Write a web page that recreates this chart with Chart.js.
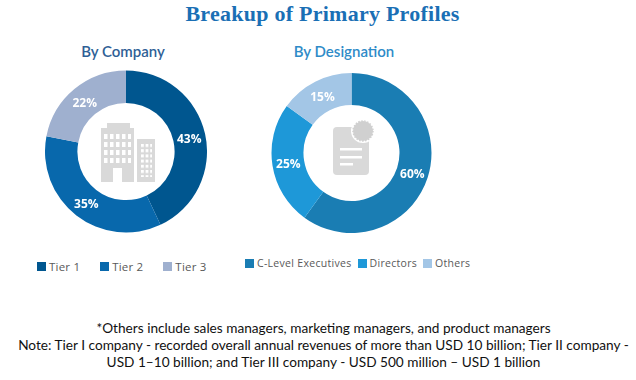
<!DOCTYPE html>
<html lang="en">
<head>
<meta charset="UTF-8">
<title>Breakup of Primary Profiles</title>
<script src="https://cdn.jsdelivr.net/npm/chart.js"></script>
<style>
    html, body { margin: 0; padding: 0; background: #fff; }
    body { width: 636px; height: 380px; position: relative; overflow: hidden; }
    .txt { position: absolute; white-space: nowrap; text-align: center; transform: translateX(-50%); }
    #title { left: 322.5px; top: 1px; font: bold 22px "Liberation Serif", serif; color: #1a6fb5; letter-spacing: 0.25px; }
    .sub { top: 42px; font: 600 15px Lato, sans-serif; }
    #note { left: 323.5px; top: 320px; font: 13.65px/17px Lato, sans-serif; color: #111; }
    .box { position: absolute; }
    .legend { position: absolute; display: flex; align-items: center; white-space: nowrap; color: #595959; font-family: "Open Sans", sans-serif; }
    .legend span { display: flex; align-items: center; }
    .legend i { display: inline-block; width: 9px; height: 9px; margin-right: 3px; }
    svg { position: absolute; }
</style>
</head>
<body>
<div id="title" class="txt">Breakup of Primary Profiles</div>
<div class="txt sub" style="left:123px;color:#2f5f96">By Company</div>
<div class="txt sub" style="left:344px;color:#2e8bc8">By Designation</div>

<div class="box" style="left:45px;top:70px;width:162px;height:163px"><canvas id="company"></canvas></div>
<div class="box" style="left:271px;top:73px;width:161px;height:160px"><canvas id="designation"></canvas></div>

<div id="companyLegend" class="legend" style="left:37px;top:257px;height:18px;gap:20px;font-size:11.5px;letter-spacing:0.2px"></div>
<div id="designationLegend" class="legend" style="left:245px;top:254px;height:18px;gap:6px;font-size:10.5px;letter-spacing:0.3px"></div>

<svg style="left:95px;top:118px" width="66" height="70">
    <defs>
        <pattern id="win1" x="9" y="16" width="6" height="8" patternUnits="userSpaceOnUse"><rect width="3.5" height="5" fill="#fff"/></pattern>
        <pattern id="win2" x="46" y="26" width="4.6" height="5.2" patternUnits="userSpaceOnUse"><rect width="2.8" height="3" fill="#fff"/></pattern>
    </defs>
    <rect x="12" y="5" width="23" height="7" fill="#d9d9d9"/>
    <rect x="6" y="10" width="33" height="54" fill="#d9d9d9"/>
    <rect x="9" y="16" width="27" height="32" fill="url(#win1)"/>
    <rect x="18" y="50" width="9" height="14" fill="#fff"/>
    <rect x="42" y="21" width="18" height="43" fill="#d9d9d9"/>
    <rect x="46" y="26" width="11" height="33" fill="url(#win2)"/>
</svg>
<svg style="left:328px;top:116px" width="52" height="64">
    <rect x="5" y="11" width="36" height="48" rx="4" fill="#d9d9d9"/>
    <circle cx="35" cy="15" r="12" fill="#fff"/>
    <circle cx="35" cy="15" r="10" fill="#d0d0d0" stroke="#d0d0d0" stroke-width="1.5" stroke-dasharray="1.5 1.5"/>
    <rect x="12" y="32" width="22" height="2.5" fill="#fff"/>
    <rect x="12" y="40" width="22" height="2.5" fill="#fff"/>
    <rect x="12" y="47" width="13" height="2.5" fill="#fff"/>
</svg>

<div id="note" class="txt">*Others include sales managers, marketing managers, and product managers<br>Note: Tier I company - recorded overall annual revenues of more than USD 10 billion; Tier II company -<br>USD 1–10 billion; and Tier III company - USD 500 million – USD 1 billion</div>

<script>
const companyLabels = ['Tier 1', 'Tier 2', 'Tier 3'];
const companyValues = [43, 35, 22];
const companyColors = ['#00568f', '#0868ac', '#9fb0cf'];

const designationLabels = ['C-Level Executives', 'Directors', 'Others'];
const designationValues = [60, 25, 15];
const designationColors = ['#1a7db3', '#1e98d8', '#a3c6e6'];

// percent text on top of each slice
const sliceLabels = {
    id: 'sliceLabels',
    afterDatasetsDraw(chart) {
        const ctx = chart.ctx;
        const meta = chart.getDatasetMeta(0);
        ctx.save();
        ctx.font = 'bold 12px "Open Sans", sans-serif';
        ctx.fillStyle = '#fff';
        ctx.textAlign = 'center';
        ctx.textBaseline = 'middle';
        meta.data.forEach(function (arc, i) {
            const p = arc.tooltipPosition();
            ctx.fillText(chart.data.datasets[0].data[i] + '%', p.x, p.y + 2);
        });
        ctx.restore();
    }
};

function plotDonut(id, labels, values, colors) {
    return new Chart(document.getElementById(id), {
        type: 'doughnut',
        data: {
            labels: labels,
            datasets: [{ data: values, backgroundColor: colors, borderWidth: 0 }]
        },
        options: {
            responsive: true,
            maintainAspectRatio: false,
            animation: false,
            cutout: '60%',
            plugins: {
                tooltip: { enabled: false },
                legend: { display: false }
            }
        },
        plugins: [sliceLabels]
    });
}

function plotLegend(id, labels, colors) {
    const el = document.getElementById(id);
    labels.forEach(function (label, i) {
        const item = document.createElement('span');
        const swatch = document.createElement('i');
        swatch.style.background = colors[i];
        item.appendChild(swatch);
        item.appendChild(document.createTextNode(label));
        el.appendChild(item);
    });
}

plotDonut('company', companyLabels, companyValues, companyColors);
plotDonut('designation', designationLabels, designationValues, designationColors);
plotLegend('companyLegend', companyLabels, companyColors);
plotLegend('designationLegend', designationLabels, designationColors);
</script>
</body>
</html>
